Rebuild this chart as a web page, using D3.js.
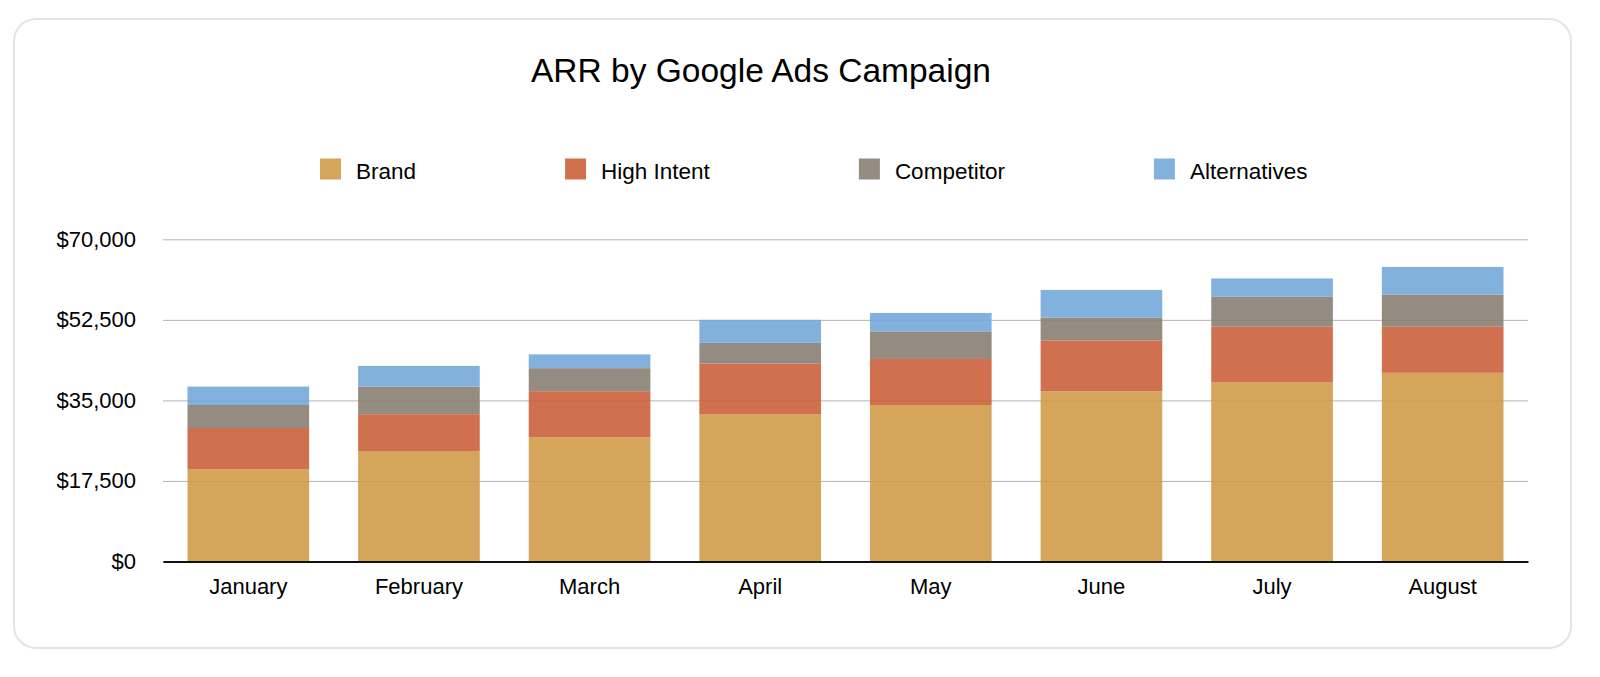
<!DOCTYPE html>
<html>
<head>
<meta charset="utf-8">
<script src="https://cdn.jsdelivr.net/npm/d3@7"></script>
<style>
  html, body { margin: 0; padding: 0; background: #fff; }
  svg { display: block; font-family: "Liberation Sans", Arial, Helvetica, sans-serif; }
</style>
</head>
<body>
<div id="chart"></div>
<script>
// chart data
var months = ["January", "February", "March", "April", "May", "June", "July", "August"];
var campaigns = ["Brand", "High Intent", "Competitor", "Alternatives"];
var brand       = [20000, 24000, 27000, 32000, 34000, 37000, 39000, 41000];
var highIntent  = [9000, 8000, 10000, 11000, 10000, 11000, 12000, 10000];
var competitor  = [5000, 6000, 5000, 4500, 6000, 5000, 6500, 7000];
var alternatives = [4000, 4500, 3000, 5000, 4000, 6000, 4000, 6000];
var yTicks = [0, 17500, 35000, 52500, 70000];

// base colours, drawn at 0.9 opacity over white
var colors = ["#cf9b49", "#cc613b", "#897f73", "#76a9da"];

var svgWidth = 1600;
var svgHeight = 677;

var margin = { top: 239.3, right: 72, bottom: 115.5, left: 163 };
var width = svgWidth - margin.left - margin.right;
var height = svgHeight - margin.top - margin.bottom;

var svg = d3.select("#chart")
    .append("svg")
    .attr("width", svgWidth)
    .attr("height", svgHeight);

// card behind the chart
svg.append("rect")
    .attr("x", 14)
    .attr("y", 19)
    .attr("width", 1557)
    .attr("height", 629)
    .attr("rx", 22)
    .attr("fill", "#fff")
    .attr("stroke", "#e4e4e4")
    .attr("stroke-width", 2);

// title
svg.append("text")
    .attr("x", 761)
    .attr("y", 82)
    .attr("text-anchor", "middle")
    .attr("font-size", "33.5px")
    .attr("fill", "#000")
    .text("ARR by Google Ads Campaign");

// build rows for the stack
var rows = months.map(function(m, i) {
    return {
        month: m,
        "Brand": brand[i],
        "High Intent": highIntent[i],
        "Competitor": competitor[i],
        "Alternatives": alternatives[i]
    };
});

var stacked = d3.stack().keys(campaigns)(rows);

var xScale = d3.scaleBand()
    .domain(months)
    .range([0, width])
    .paddingInner(0.287)
    .paddingOuter(0.1435);

var yScale = d3.scaleLinear()
    .domain([0, 70000])
    .range([height, 0]);

var colorScale = d3.scaleOrdinal()
    .domain(campaigns)
    .range(colors);

var chartGroup = svg.append("g")
    .attr("transform", `translate(${margin.left}, ${margin.top})`);

// y axis with gridlines
var leftAxis = d3.axisLeft(yScale)
    .tickValues(yTicks)
    .tickSize(-width)
    .tickPadding(27)
    .tickFormat(function(d) { return "$" + d3.format(",")(d); });

var yAxis = chartGroup.append("g")
    .attr("class", "y-axis")
    .call(leftAxis);

yAxis.select(".domain").remove();
yAxis.selectAll(".tick line")
    .attr("stroke", "#b4b4b4")
    .attr("stroke-width", 1);
yAxis.selectAll(".tick text")
    .attr("font-size", "22px")
    .attr("fill", "#000");

// stacked bars
var layers = chartGroup.selectAll(".layer")
    .data(stacked)
    .enter()
    .append("g")
    .attr("class", "layer")
    .attr("fill", function(d) { return colorScale(d.key); });

layers.selectAll("rect")
    .data(function(d) { return d; })
    .enter()
    .append("rect")
    .attr("x", function(d) { return xScale(d.data.month); })
    .attr("y", function(d) { return yScale(d[1]); })
    .attr("width", xScale.bandwidth())
    .attr("height", function(d) { return yScale(d[0]) - yScale(d[1]); })
    .attr("opacity", 0.9);

// x axis
var bottomAxis = d3.axisBottom(xScale)
    .tickSize(0)
    .tickPadding(17);

var xAxis = chartGroup.append("g")
    .attr("class", "x-axis")
    .attr("transform", `translate(0, ${height})`)
    .call(bottomAxis);

xAxis.select(".domain")
    .attr("stroke", "#111")
    .attr("stroke-width", 2);
xAxis.selectAll(".tick text")
    .attr("font-size", "22px")
    .attr("fill", "#000");

// legend
var legend = svg.append("g")
    .attr("class", "legend");

var legendX = 320;
campaigns.forEach(function(name, i) {
    var item = legend.append("g")
        .attr("transform", `translate(${legendX}, 158.5)`);
    item.append("rect")
        .attr("width", 21)
        .attr("height", 21)
        .attr("fill", colors[i])
        .attr("opacity", 0.9);
    var label = item.append("text")
        .attr("x", 36)
        .attr("y", 20)
        .attr("font-size", "22.5px")
        .attr("fill", "#000")
        .text(name);
    legendX += 36 + label.node().getComputedTextLength() + 149;
});
</script>
</body>
</html>
